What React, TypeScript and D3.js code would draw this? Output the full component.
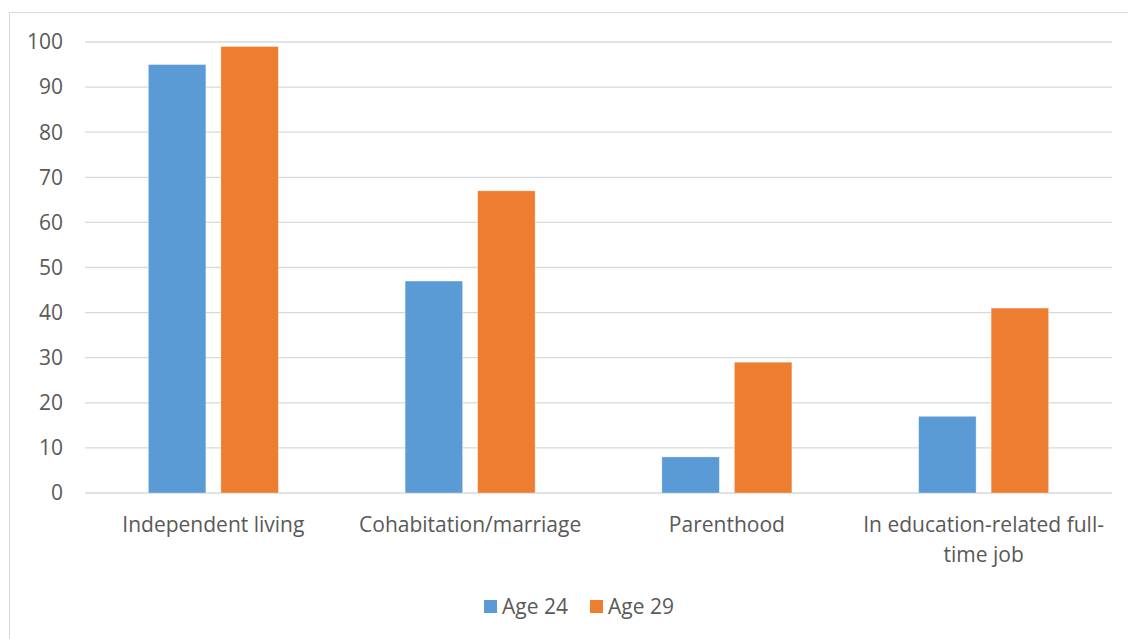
import React from "react";
import * as d3 from "d3";

const categories: string[][] = [
  ["Independent living"],
  ["Cohabitation/marriage"],
  ["Parenthood"],
  ["In education-related full-", "time job"],
];
const seriesNames = ["Age 24", "Age 29"];
const age24 = [95, 47, 8, 17];
const age29 = [99, 67, 29, 41];
const yTicks = [0, 10, 20, 30, 40, 50, 60, 70, 80, 90, 100];
const colors = ["#5b9bd5", "#ed7d31"];

export default function App() {
  const W = 1128, H = 639;
  const left = 85, right = 1112, top = 42, bottom = 493;
  const x0 = d3.scaleBand<number>().domain(d3.range(categories.length)).range([left, right]).paddingInner(0).paddingOuter(0);
  const y = d3.scaleLinear().domain([0, 100]).range([bottom, top]);
  const bw = x0.bandwidth();
  const barW = 57.5;
  const gap = 15;
  const font = "'Open Sans', sans-serif";
  const fs = 21;
  const series = [age24, age29];
  return (
    <svg width={W} height={H} style={{ position: "absolute", left: 0, top: 0 }}>
      <rect x={0} y={0} width={W} height={H} fill="#fff" />
      <rect x={9.5} y={12.5} width={W + 10} height={H + 10} fill="none" stroke="#d9d9d9" strokeWidth={1} />
      {yTicks.map((t) => (
        <g key={t}>
          <line x1={left} x2={right} y1={y(t)} y2={y(t)} stroke="#d9d9d9" strokeWidth={1.3} />
          <text x={63} y={y(t)} dy="0.35em" textAnchor="end" fontFamily={font} fontSize={fs} fill="#595959">{t}</text>
        </g>
      ))}
      {categories.map((c, i) => {
        const cx = (x0(i) as number) + bw / 2;
        return (
          <g key={i}>
            {series.map((s, k) => {
              const bx = k === 0 ? cx - gap / 2 - barW : cx + gap / 2;
              return (
                <rect key={k} x={bx} y={y(s[i])} width={barW} height={y(0) - y(s[i])} fill={colors[k]} stroke="#ffffff" strokeOpacity={0.4} strokeWidth={0.8} />
              );
            })}
            {c.map((line, j) => (
              <text key={j} x={cx} y={525 + j * 30} dy="0.35em" textAnchor="middle" fontFamily={font} fontSize={fs} fill="#595959">{line}</text>
            ))}
          </g>
        );
      })}
      {seriesNames.map((n, k) => {
        const lx = k === 0 ? 484 : 590;
        return (
          <g key={n}>
            <rect x={lx} y={600} width={13} height={13} fill={colors[k]} />
            <text x={lx + 18} y={607} dy="0.35em" fontFamily={font} fontSize={fs} fill="#595959">{n}</text>
          </g>
        );
      })}
    </svg>
  );
}
